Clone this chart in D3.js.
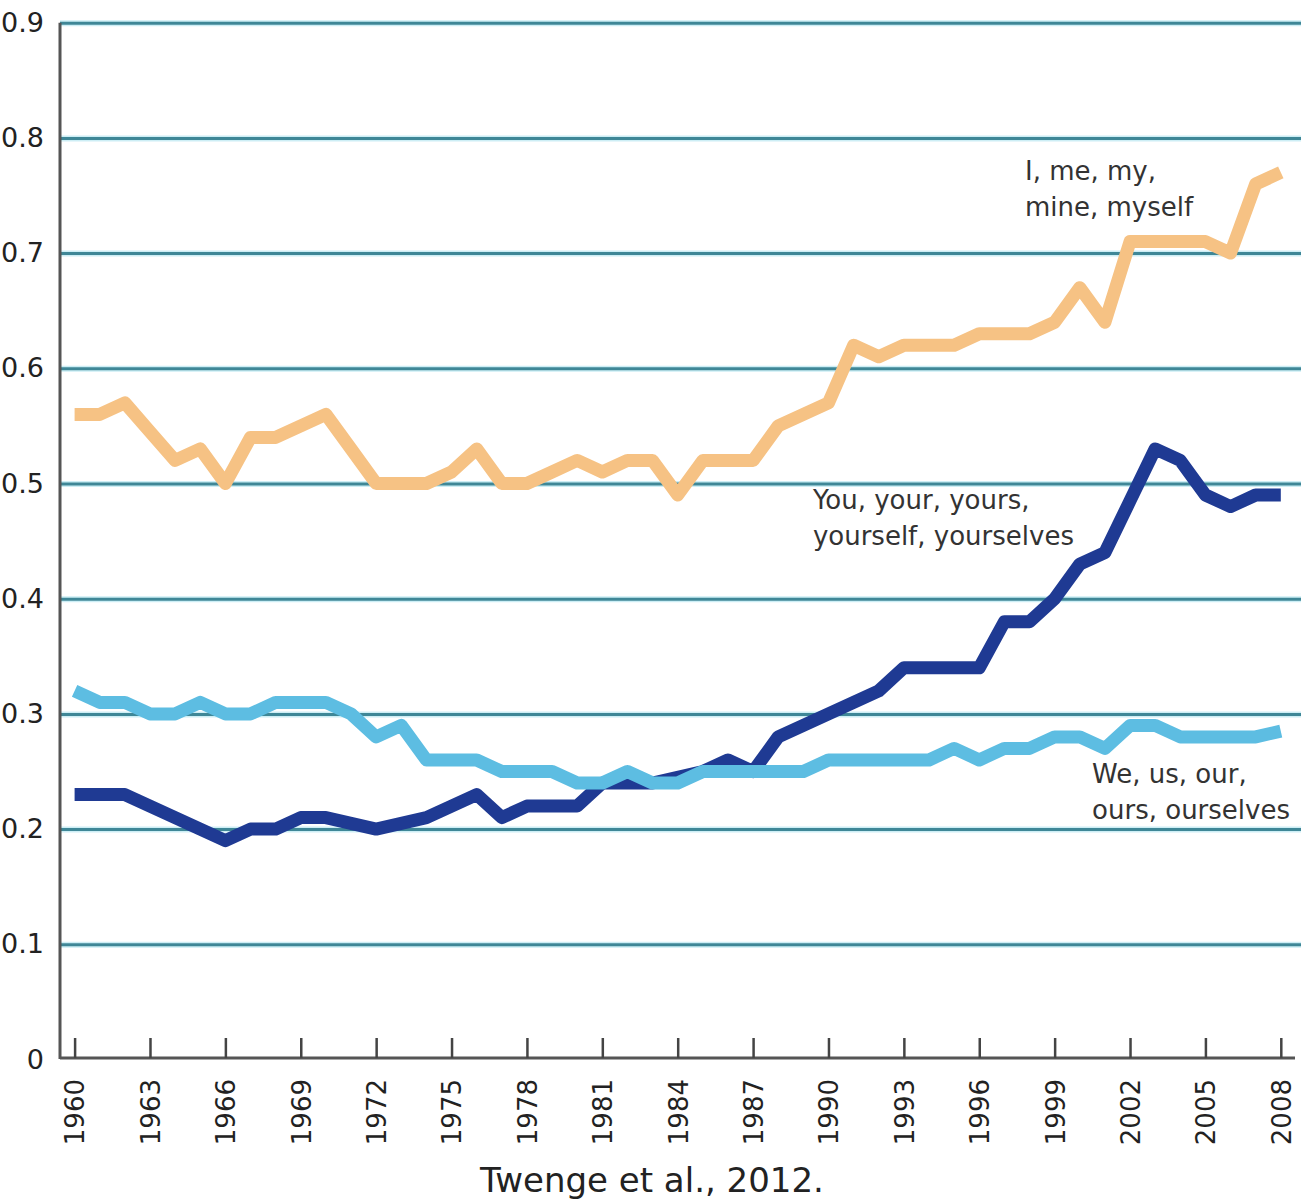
<!DOCTYPE html>
<html>
<head>
<meta charset="utf-8">
<script src="https://cdn.jsdelivr.net/npm/d3@7"></script>
<style>
  html, body { margin: 0; padding: 0; background: #fff; }
  svg { display: block; }
</style>
</head>
<body>
<script>
// ---------- data ----------
const years = [1960,1961,1962,1963,1964,1965,1966,1967,1968,1969,
               1970,1971,1972,1973,1974,1975,1976,1977,1978,1979,
               1980,1981,1982,1983,1984,1985,1986,1987,1988,1989,
               1990,1991,1992,1993,1994,1995,1996,1997,1998,1999,
               2000,2001,2002,2003,2004,2005,2006,2007,2008];

const iMe = [0.56,0.56,0.57,0.545,0.52,0.53,0.50,0.54,0.54,0.55,
             0.56,0.53,0.50,0.50,0.50,0.51,0.53,0.50,0.50,0.51,
             0.52,0.51,0.52,0.52,0.49,0.52,0.52,0.52,0.55,0.56,
             0.57,0.62,0.61,0.62,0.62,0.62,0.63,0.63,0.63,0.64,
             0.67,0.64,0.71,0.71,0.71,0.71,0.70,0.76,0.77];

const you = [0.23,0.23,0.23,0.22,0.21,0.20,0.19,0.20,0.20,0.21,
             0.21,0.205,0.20,0.205,0.21,0.22,0.23,0.21,0.22,0.22,
             0.22,0.24,0.24,0.24,0.245,0.25,0.26,0.25,0.28,0.29,
             0.30,0.31,0.32,0.34,0.34,0.34,0.34,0.38,0.38,0.40,
             0.43,0.44,0.485,0.53,0.52,0.49,0.48,0.49,0.49];

const we = [0.32,0.31,0.31,0.30,0.30,0.31,0.30,0.30,0.31,0.31,
            0.31,0.30,0.28,0.29,0.26,0.26,0.26,0.25,0.25,0.25,
            0.24,0.24,0.25,0.24,0.24,0.25,0.25,0.25,0.25,0.25,
            0.26,0.26,0.26,0.26,0.26,0.27,0.26,0.27,0.27,0.28,
            0.28,0.27,0.29,0.29,0.28,0.28,0.28,0.28,0.285];

const xTickYears = [1960,1963,1966,1969,1972,1975,1978,1981,1984,1987,1990,1993,1996,1999,2002,2005,2008];
const yTicks = [0,0.1,0.2,0.3,0.4,0.5,0.6,0.7,0.8,0.9];

const seriesNames = ["iMe","you","we"];
const seriesColors = {iMe:"#F6C284", you:"#1F3A93", we:"#5DBDE2"};

const labelLines = {
  iMe: ["I, me, my,", "mine, myself"],
  you: ["You, your, yours,", "yourself, yourselves"],
  we:  ["We, us, our,", "ours, ourselves"]
};
// label anchor (year, value) for first line baseline
const labelAnchors = {
  iMe: [1997.82, 0.7635],
  you: [1989.38, 0.478],
  we:  [2000.49, 0.240]
};
const caption = "Twenge et al., 2012.";

// ---------- layout ----------
const W = 1301, H = 1200;
const axisX = 60, axisY = 1058;
const font = "'DejaVu Sans', Verdana, sans-serif";

const svg = d3.select("body").append("svg")
  .attr("width", W).attr("height", H);

const x = d3.scaleLinear().domain([1960, 2008]).range([74.6, 1280.8]);
const y = d3.scaleLinear().domain([0, 0.9]).range([1059.5, 22.7]);

// gridlines + y labels
const yAxis = d3.axisLeft(y)
  .tickValues(yTicks)
  .tickSize(-(W - axisX))
  .tickPadding(16)
  .tickFormat(d => d === 0 ? "0" : d3.format(".1f")(d));

const gy = svg.append("g")
  .attr("transform", `translate(${axisX},0)`)
  .call(yAxis);
gy.select(".domain").remove();
gy.selectAll(".tick line")
  .attr("stroke", "#3f8797")
  .attr("stroke-width", 3)
  .filter(d => d === 0).remove();
gy.selectAll(".tick text")
  .attr("font-family", font)
  .attr("font-size", 27)
  .attr("fill", "#222");

// light halo for gridlines
gy.selectAll(".tick").insert("line", ":first-child")
  .filter(d => d !== 0)
  .attr("x1", 0).attr("x2", W - axisX)
  .attr("stroke", "#cdeef5").attr("stroke-width", 6);

// y-axis line
svg.append("line")
  .attr("x1", axisX).attr("x2", axisX)
  .attr("y1", y(0.9)).attr("y2", axisY + 1)
  .attr("stroke", "#555").attr("stroke-width", 3);

// x axis
const xAxis = d3.axisBottom(x)
  .tickValues(xTickYears)
  .tickSize(-20)
  .tickSizeOuter(0)
  .tickFormat(d3.format("d"));

const gx = svg.append("g")
  .attr("transform", `translate(0,${axisY})`)
  .call(xAxis);
gx.select(".domain")
  .attr("d", `M${axisX},0H${W - 6}`)
  .attr("stroke", "#555").attr("stroke-width", 3);
gx.selectAll(".tick line")
  .attr("stroke", "#444").attr("stroke-width", 2.5);
gx.selectAll(".tick text")
  .attr("font-family", font)
  .attr("font-size", 26)
  .attr("fill", "#222")
  .attr("text-anchor", "end")
  .attr("transform", "rotate(-90)")
  .attr("x", -21)
  .attr("y", 0)
  .attr("dy", "0.36em");

// lines
const seriesData = {iMe: iMe, you: you, we: we};
const line = d3.line()
  .x((d, i) => x(years[i]))
  .y(d => y(d))
  .curve(d3.curveLinear);

svg.append("g").selectAll("path")
  .data(seriesNames)
  .join("path")
  .attr("d", k => line(seriesData[k]))
  .attr("fill", "none")
  .attr("stroke", k => seriesColors[k])
  .attr("stroke-width", 13)
  .attr("stroke-linejoin", "round")
  .attr("stroke-linecap", "butt");

// labels
const lg = svg.append("g");
seriesNames.forEach(k => {
  const [yr, v] = labelAnchors[k];
  const t = lg.append("text")
    .attr("x", x(yr))
    .attr("y", y(v))
    .attr("font-family", font)
    .attr("font-size", 26)
    .attr("fill", "#333");
  labelLines[k].forEach((s, i) => {
    t.append("tspan").attr("x", x(yr)).attr("dy", i === 0 ? 0 : 36).text(s);
  });
});

// caption
svg.append("text")
  .attr("x", 652).attr("y", 1192)
  .attr("text-anchor", "middle")
  .attr("font-family", font)
  .attr("font-size", 34)
  .attr("fill", "#222")
  .text(caption);
</script>
</body>
</html>
